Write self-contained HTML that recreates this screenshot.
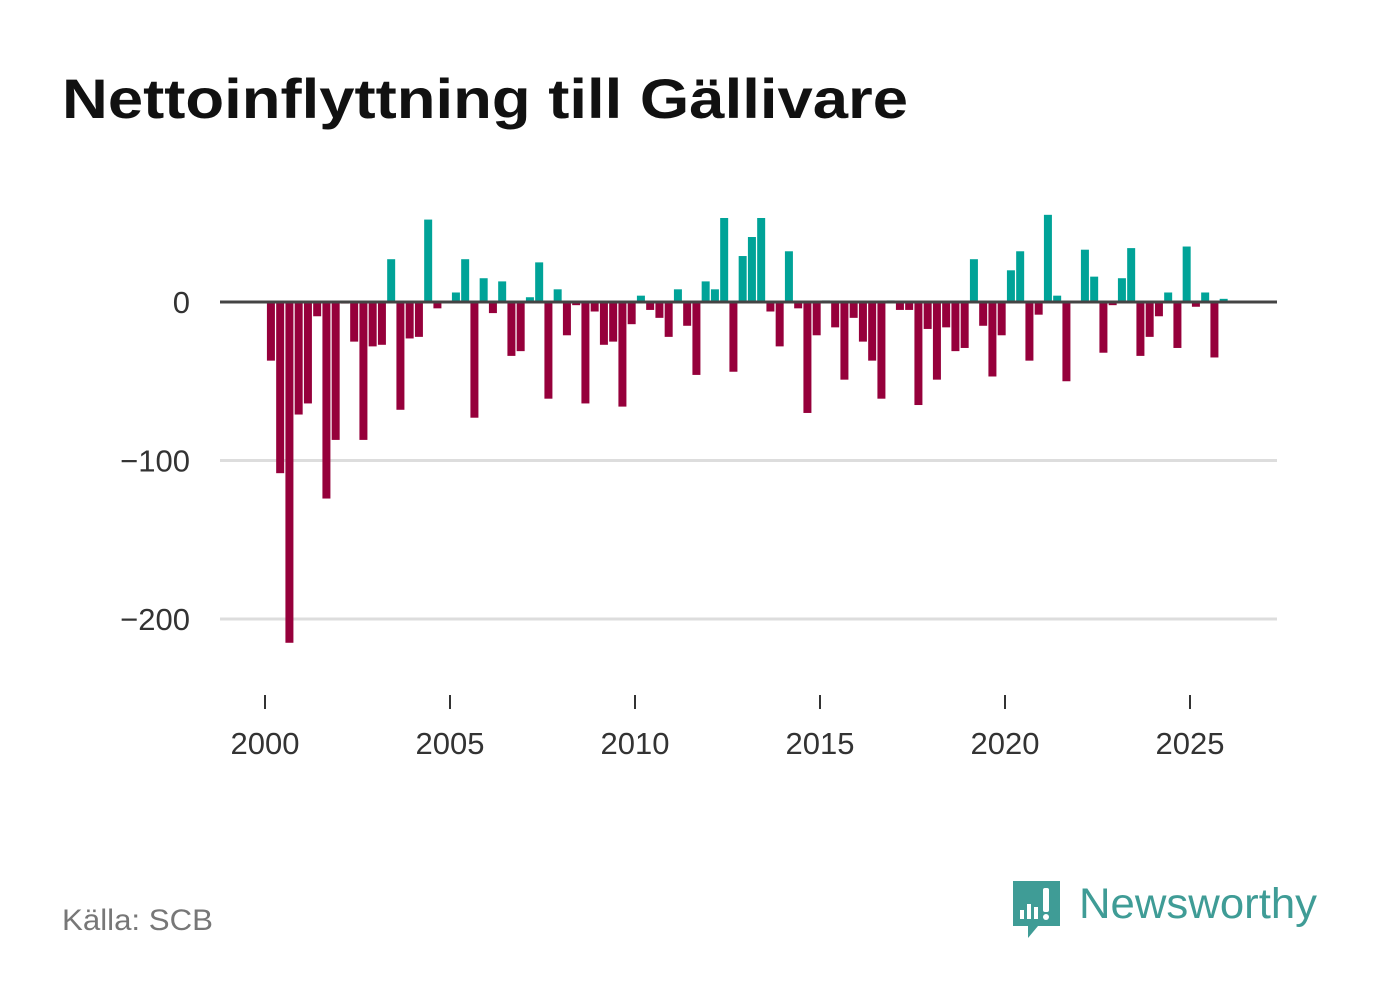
<!DOCTYPE html>
<html><head><meta charset="utf-8"><style>
html,body{margin:0;padding:0;background:#fff;}
svg{display:block;font-family:"Liberation Sans",sans-serif;}
</style></head><body>
<svg id="chart" width="1382" height="999" viewBox="0 0 1382 999">
<text x="62" y="118" font-size="56" font-weight="bold" fill="#111" textLength="846" lengthAdjust="spacingAndGlyphs">Nettoinflyttning till Gällivare</text>
<g id="grid"></g>
<g id="bars"></g>
<g id="axes"></g>
<text x="62" y="930" font-size="30" fill="#777" textLength="151" lengthAdjust="spacingAndGlyphs">Källa: SCB</text>
<g>
<path d="M1013,881 h47 v45 h-22 l-10,12 v-12 h-15 z" fill="#3f9c96"/>
<rect x="1020" y="910" width="4" height="9" fill="#fff"/>
<rect x="1027" y="904" width="4" height="15" fill="#fff"/>
<rect x="1034" y="907" width="4" height="12" fill="#fff"/>
<rect x="1043" y="888" width="6" height="24" rx="2" fill="#fff"/>
<circle cx="1046" cy="917" r="3" fill="#fff"/>
<text x="1079" y="918" font-size="43" fill="#3f9c96" textLength="238" lengthAdjust="spacingAndGlyphs">Newsworthy</text>
</g>
</svg>
<script>
const years = [2000,2001,2002,2003,2004,2005,2006,2007,2008,2009,2010,2011,2012,2013,2014,2015,2016,2017,2018,2019,2020,2021,2022,2023,2024,2025];
const values = [
-37,-108,-215,-71, -64,-9,-124,-87, -1,-25,-87,-28, -27,27,-68,-23,
-22,52,-4,0, 6,27,-73,15, -7,13,-34,-31, 3,25,-61,8,
-21,-2,-64,-6, -27,-25,-66,-14, 4,-5,-10,-22, 8,-15,-46,13,
8,53,-44,29, 41,53,-6,-28, 32,-4,-70,-21, 1,-16,-49,-10,
-25,-37,-61,1, -5,-5,-65,-17, -49,-16,-31,-29, 27,-15,-47,-21,
20,32,-37,-8, 55,4,-50,0, 33,16,-32,-2, 15,34,-34,-22,
-9,6,-29,35, -3,6,-35,2];
const yTicks = [0,-100,-200];
const xTickYears = [2000,2005,2010,2015,2020,2025];
const NS = "http://www.w3.org/2000/svg";
const x = yr => 265 + (yr - 2000) * 37;
const y = v => 302 - v * 1.585;
function mk(tag, attrs, parent){const e=document.createElementNS(NS,tag);for(const k in attrs)e.setAttribute(k,attrs[k]);parent.appendChild(e);return e;}
const grid=document.getElementById('grid'), bars=document.getElementById('bars'), axes=document.getElementById('axes');
yTicks.forEach(t=>{
  if(t!==0){const l=mk('line',{x1:220,x2:1277,y1:y(t),y2:y(t),stroke:'#dddddd','stroke-width':3},grid);
  
  }
  const tx=mk('text',{x:190,y:y(t)+11,'font-size':31,fill:'#333','text-anchor':'end'},axes);
  tx.textContent = t<0 ? '\u2212'+Math.abs(t) : String(t);
  
  
});
values.forEach((v,i)=>{
  const yr = 2000 + i/4 + 0.16;
  const cx = x(yr);
  const top = Math.min(y(v), y(0)), h = Math.abs(y(v)-y(0));
  const r=mk('rect',{x:cx-4,y:top,width:8,height:h,fill:v>=0?'#00a398':'#96003b'},bars);
  
  
});
const zl=mk('line',{x1:220,x2:1277,y1:y(0),y2:y(0),stroke:'#444','stroke-width':3},axes);


xTickYears.forEach(t=>{
  const tk=mk('line',{x1:x(t),x2:x(t),y1:695,y2:709,stroke:'#333','stroke-width':2},axes);
  
  
  const tx=mk('text',{x:x(t),y:754,'font-size':31,fill:'#333','text-anchor':'middle'},axes);
  tx.textContent=String(t);
  
  
});
</script>
</body></html>
